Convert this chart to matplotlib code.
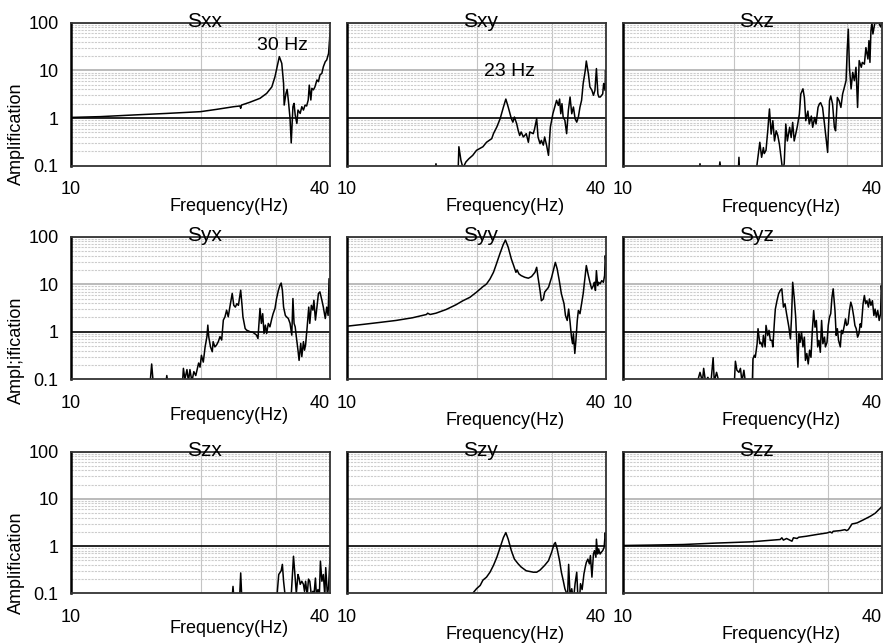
import matplotlib
matplotlib.use("Agg")
import matplotlib.pyplot as plt
from matplotlib.ticker import NullLocator, FixedLocator, NullFormatter

plt.rcParams['font.family'] = ['Liberation Sans', 'DejaVu Sans']

# ---------------- data (frequency in Hz, amplification) ----------------
# values below 0.1 are drawn below the axis floor (clipped)
sxx_f = [10, 11.7, 14.0, 16.7, 20.0, 21.8, 23.9, 24.7, 24.8, 24.9, 26.0, 27.5, 28.5, 29.3, 29.8,
         30.2, 30.5, 30.9, 31.2, 31.3, 31.6, 31.8, 32.0, 32.3, 32.5, 32.8, 33.0, 33.2, 33.5, 33.7,
         34.1, 34.4, 34.7, 35.0, 35.3, 35.6, 35.8, 36.1, 36.3, 36.6, 36.9, 37.3, 37.6, 37.9, 38.3,
         38.6, 39.0, 39.3, 39.7, 40.0]
sxx_a = [1.03, 1.07, 1.16, 1.25, 1.36, 1.52, 1.73, 1.79, 1.60, 1.87, 2.13, 2.59, 3.29, 4.5, 7.4,
         12.9, 19.4, 14.0, 5.3, 1.87, 3.29, 4.0, 2.39, 0.98, 0.30, 1.73, 2.03, 1.16, 0.77, 1.47,
         1.25, 1.73, 1.47, 1.87, 1.79, 2.39, 4.9, 2.39, 4.2, 3.9, 4.5, 6.3, 5.8, 8.0, 8.7,
         11.9, 15.2, 16.5, 22.7, 60]

sxy_f = [15.9, 16.1, 16.3, 18.1, 18.2, 18.4, 18.6, 18.9, 19.2, 19.6,
         20.0, 20.7, 21.1, 21.7, 21.9, 22.3, 22.7, 23.1, 23.4, 23.7,
         24.1, 24.3, 24.5, 24.8, 25.0, 25.2, 25.4, 25.7, 26.1, 26.4,
         26.6, 27.1, 27.3, 27.6, 27.8, 28.1, 28.3, 28.6, 28.8, 29.1,
         29.4, 29.7, 29.9, 30.1, 30.4, 30.7, 31.0, 31.2, 31.4, 31.6,
         31.8, 32.1, 32.4, 32.7, 33.0, 33.3, 33.6, 33.9, 34.2, 34.5,
         34.8, 35.1, 35.4, 35.8, 36.0, 36.4, 36.7, 37.1, 37.4, 37.7,
         38.0, 38.3, 38.5, 38.8, 39.3, 39.5, 39.8, 39.9, 40.0]
sxy_a = [0.05, 0.11, 0.05, 0.05, 0.25, 0.13, 0.09, 0.12, 0.14, 0.165,
         0.21, 0.25, 0.31, 0.37, 0.47, 0.65, 0.97, 1.7, 2.5, 1.7,
         0.97, 0.82, 1.05, 0.76, 0.55, 0.43, 0.51, 0.40, 0.47, 0.31,
         0.51, 0.47, 0.6, 0.97, 0.40, 0.29, 0.34, 0.27, 0.40, 0.27,
         0.165, 0.65, 0.89, 1.23, 1.7, 2.35, 1.84, 2.5, 1.23, 2.0,
         1.05, 0.89, 0.47, 1.45, 2.76, 1.23, 1.7, 0.97, 0.82, 1.05,
         1.7, 2.35, 5.3, 10, 15.7, 8.5, 4.5, 3.8, 3.0, 3.8,
         10.9, 3.2, 2.76, 2.76, 3.2, 5.3, 3.8, 10, 7.3]

sxz_f = [10, 14.9, 15.1, 15.3, 16.6, 16.8, 17.0, 18.5, 18.6, 18.7,
         20.3, 20.5, 20.8, 21.0, 21.2, 21.3, 21.5, 21.7, 21.9, 22.1,
         22.3, 22.5, 22.7, 22.9, 23.1, 23.3, 23.5, 23.7, 23.9, 24.1,
         24.4, 24.6, 24.8, 25.0, 25.2, 25.4, 25.7, 25.9, 26.2, 26.4,
         26.6, 26.9, 27.1, 27.4, 27.6, 27.9, 28.1, 28.4, 28.6, 28.8,
         29.1, 29.4, 29.7, 29.9, 30.2, 30.4, 30.7, 31.0, 31.2, 31.5,
         31.8, 32.1, 32.4, 32.7, 33.0, 33.2, 33.4, 33.6, 33.9, 34.2,
         34.5, 34.8, 35.1, 35.4, 35.8, 36.0, 36.4, 36.7, 37.1, 37.3,
         37.5, 37.7, 37.9, 38.1, 38.5, 38.8, 39.3, 39.7, 40.0]
sxz_a = [0.05, 0.05, 0.11, 0.05, 0.05, 0.12, 0.05, 0.05, 0.15, 0.05,
         0.05, 0.11, 0.31, 0.15, 0.24, 0.18, 0.21, 0.54, 1.55, 0.46,
         0.88, 0.33, 0.54, 0.43, 0.28, 0.15, 0.08, 0.11, 0.75, 0.33,
         0.64, 0.39, 0.81, 0.33, 0.46, 0.64, 1.2, 3.2, 4.1, 2.7,
         0.88, 1.4, 0.75, 1.1, 0.64, 1.03, 0.75, 1.67, 1.97, 2.1,
         1.67, 0.75, 0.33, 0.19, 2.3, 2.9, 1.97, 0.64, 0.54, 2.7,
         2.3, 1.67, 3.2, 4.4, 6.1, 25.9, 73, 11.6, 4.1, 9.1,
         6.1, 11.6, 1.67, 16, 11.6, 14.7, 13.5, 30, 17.3, 42,
         14.7, 68, 100, 58, 100, 96, 100, 82, 100]

syx_f = [10, 15.2, 15.4, 15.6, 16.5, 16.7, 16.9, 18.1, 18.25, 18.4,
         18.6, 18.75, 18.9, 19.1, 19.3, 19.5, 19.8, 19.95, 20.1, 20.3,
         20.5, 20.7, 20.8, 20.9, 21.1, 21.3, 21.4, 21.6, 21.8, 22.0,
         22.2, 22.4, 22.6, 22.8, 23.0, 23.2, 23.4, 23.7, 23.9, 24.1,
         24.3, 24.5, 24.6, 24.8, 25.0, 25.1, 25.4, 25.6, 26.1, 26.5,
         27.0, 27.2, 27.5, 27.7, 27.9, 28.1, 28.3, 28.5, 28.75, 29.0,
         29.3, 29.5, 29.8, 30.05, 30.35, 30.6, 30.8, 31.0, 31.2, 31.5,
         31.7, 32.0, 32.3, 32.6, 32.8, 33.0, 33.2, 33.4, 33.7, 33.9,
         34.2, 34.4, 34.7, 34.9, 35.1, 35.4, 35.7, 35.9, 36.2, 36.5,
         36.7, 37.0, 37.3, 37.6, 37.9, 38.3, 38.6, 39.0, 39.3, 39.6,
         39.8, 40.0]
syx_a = [0.05, 0.05, 0.21, 0.05, 0.05, 0.12, 0.05, 0.05, 0.17, 0.1,
         0.16, 0.09, 0.16, 0.09, 0.145, 0.12, 0.22, 0.18, 0.32, 0.23,
         0.48, 0.79, 1.38, 0.79, 0.48, 0.38, 0.62, 0.48, 0.53, 0.62,
         0.79, 0.67, 1.76, 2.06, 2.85, 2.06, 3.3, 6.4, 3.6, 3.3,
         3.9, 3.6, 4.6, 7.5, 3.3, 2.06, 1.17, 1.08, 1.0, 0.97,
         0.85, 0.72, 3.1, 1.5, 2.4, 0.92, 1.38, 0.92, 1.5, 1.27,
         1.9, 2.4, 3.1, 5.0, 7.5, 9.5, 10.6, 7.5, 3.3, 2.2,
         2.06, 1.9, 1.5, 0.85, 5.0, 1.5, 1.27, 0.79, 0.41, 0.25,
         0.57, 0.3, 0.62, 0.41, 0.53, 1.27, 3.3, 1.5, 3.6, 2.85,
         4.6, 1.76, 3.3, 6.4, 6.9, 4.6, 3.3, 1.9, 3.3, 2.2,
         13.1, 2.85]

syy_f = [10, 10.9, 11.9, 13.0, 14.2, 15.3, 15.4, 15.6, 16.1, 17.0,
         17.9, 18.6, 19.3, 20.0, 20.7, 21.1, 21.5, 21.9, 22.25, 22.65,
         23.1, 23.35, 23.7, 24.1, 24.4, 24.7, 24.85, 25.1, 25.4, 25.9,
         26.4, 26.85, 27.35, 27.6, 27.8, 28.1, 28.3, 28.6, 28.8, 29.4,
         29.9, 30.3, 30.5, 30.8, 31.15, 31.5, 31.95, 32.2, 32.5, 32.75,
         33.0, 33.25, 33.45, 33.6, 33.85, 34.05, 34.3, 34.5, 34.8, 35.1,
         35.4, 35.75, 36.0, 36.4, 36.7, 37.05, 37.4, 37.6, 37.8, 38.0,
         38.25, 38.45, 38.75, 39.1, 39.45, 39.7, 39.85, 40.0]
syy_a = [1.31, 1.43, 1.57, 1.73, 1.97, 2.31, 2.46, 2.31, 2.46, 2.94,
         3.68, 4.5, 5.3, 6.8, 8.9, 10.1, 12.9, 17.8, 26.7, 43,
         70, 85, 60, 34, 24.7, 17.8, 20, 16.5, 15.2, 14,
         13.4, 14.5, 17.8, 22.7, 14, 7.4, 4.5, 4.9, 6.8, 8.6,
         14, 22.7, 28.8, 21, 11.9, 6.3, 3.9, 2.2, 1.73, 3.0,
         1.6, 0.77, 0.56, 0.91, 0.35, 0.66, 1.73, 2.8, 2.4, 3.9,
         6.3, 14, 24.7, 15.2, 11, 8, 9.4, 11, 7.4, 19.3,
         9.4, 11, 10.2, 11.9, 11, 15.2, 40, 26.7]

syz_f = [10, 14.5, 14.7, 14.9, 15.1, 15.3, 15.4, 15.55, 15.75, 16.0,
         16.2, 16.3, 16.5, 16.7, 17.0, 18.1, 18.25, 18.4, 18.6, 18.75,
         18.9, 19.1, 19.4, 19.95, 20.05, 20.2, 20.3, 20.5, 20.6, 20.8,
         20.9, 21.1, 21.2, 21.4, 21.5, 21.7, 21.85, 22.0, 22.2, 22.3,
         22.5, 22.6, 22.8, 23.0, 23.2, 23.4, 23.6, 23.8, 24.0, 24.3,
         24.5, 24.65, 24.8, 25.0, 25.2, 25.35, 25.5, 25.65, 25.8, 26.0,
         26.2, 26.4, 26.55, 26.75, 26.95, 27.15, 27.35, 27.55, 27.75, 27.95,
         28.15, 28.35, 28.55, 28.75, 28.95, 29.15, 29.4, 29.55, 29.8, 30.0,
         30.2, 30.4, 30.6, 30.8, 31.1, 31.3, 31.5, 31.7, 32.0, 32.2,
         32.4, 32.7, 32.9, 33.1, 33.35, 33.6, 33.85, 34.1, 34.4, 34.6,
         34.85, 35.1, 35.35, 35.6, 35.8, 36.15, 36.4, 36.65, 36.9, 37.2,
         37.4, 37.7, 38.0, 38.3, 38.55, 38.8, 39.1, 39.4, 39.7, 39.85,
         40.0]
syz_a = [0.05, 0.05, 0.1, 0.09, 0.14, 0.09, 0.17, 0.09, 0.11, 0.08,
         0.285, 0.09, 0.14, 0.09, 0.05, 0.05, 0.24, 0.155, 0.14, 0.17,
         0.09, 0.155, 0.05, 0.05, 0.27, 0.32, 0.29, 0.56, 1.16, 0.56,
         0.6, 0.48, 0.84, 0.48, 1.36, 0.84, 1.07, 0.66, 0.66, 0.48,
         1.73, 3.0, 4.5, 6.3, 7.4, 8.0, 3.3, 3.9, 2.4, 1.25,
         0.71, 2.03, 11, 5.3, 2.03, 0.6, 0.18, 0.91, 0.6, 0.98,
         0.48, 0.77, 0.25, 0.35, 0.21, 0.41, 0.29, 1.07, 2.8, 1.25,
         1.73, 0.48, 0.66, 0.37, 1.73, 0.56, 0.77, 0.48, 0.6, 1.36,
         2.03, 2.4, 5.3, 8.0, 2.8, 0.84, 1.16, 0.66, 0.48, 1.07,
         0.91, 1.36, 1.87, 1.36, 1.47, 2.8, 4.2, 3.3, 2.03, 1.36,
         1.16, 0.77, 0.91, 1.47, 1.25, 3.9, 5.8, 3.9, 4.5, 3.3,
         4.9, 3.6, 4.5, 2.2, 3.0, 2.03, 2.8, 1.73, 2.4, 9.4,
         6.3]

szx_f = [10, 23.6, 23.8, 24.0, 24.6, 24.8, 25.0, 30.0, 30.2, 30.4,
         30.8, 31.0, 31.2, 31.5, 32.1, 32.5, 32.9, 33.1, 33.4, 33.7,
         33.9, 34.1, 34.4, 34.7, 34.9, 35.1, 35.4, 35.65, 35.9, 36.2,
         36.5, 36.7, 37.0, 37.2, 37.5, 37.8, 38.0, 38.3, 38.6, 38.9,
         39.1, 39.45, 39.7, 40.0]
szx_a = [0.05, 0.05, 0.14, 0.05, 0.05, 0.27, 0.05, 0.05, 0.12, 0.25,
         0.30, 0.41, 0.18, 0.08, 0.08, 0.09, 0.61, 0.30, 0.1, 0.25,
         0.21, 0.155, 0.18, 0.155, 0.11, 0.18, 0.09, 0.2, 0.18, 0.09,
         0.11, 0.09, 0.21, 0.09, 0.12, 0.1, 0.48, 0.18, 0.25, 0.09,
         0.35, 0.09, 0.14, 0.57]

szy_f = [19.4, 19.6, 20.0, 20.4, 20.7, 21.1, 21.5, 21.9, 22.3, 22.7,
         23.1, 23.4, 23.7, 24.1, 24.5, 25.0, 25.4, 26.1, 26.6, 27.1,
         27.6, 28.1, 28.8, 29.4, 29.9, 30.3, 30.5, 30.8, 31.2, 31.5,
         31.8, 32.1, 32.4, 32.5, 32.75, 33.0, 33.3, 33.6, 33.9, 34.2,
         34.4, 34.7, 34.9, 35.2, 35.55, 35.8, 36.0, 36.3, 36.6, 36.8,
         37.1, 37.4, 37.6, 37.9, 38.0, 38.25, 38.45, 38.75, 39.0, 39.3,
         39.6, 39.85, 40.0]
szy_a = [0.05, 0.1, 0.125, 0.147, 0.19, 0.22, 0.28, 0.39, 0.58, 0.94,
         1.52, 1.93, 1.4, 0.80, 0.53, 0.42, 0.36, 0.30, 0.29, 0.28,
         0.28, 0.31, 0.39, 0.49, 0.74, 1.1, 1.19, 0.87, 0.49, 0.28,
         0.19, 0.125, 0.1, 0.05, 0.41, 0.09, 0.125, 0.07, 0.16, 0.28,
         0.09, 0.07, 0.16, 0.12, 0.26, 0.36, 0.45, 0.53, 0.42, 0.63,
         0.22, 0.68, 0.8, 0.58, 1.4, 0.68, 0.87, 0.68, 0.74, 0.8,
         0.94, 1.93, 1.3]

szz_f = [10, 11.6, 13.8, 16.5, 19.8, 21.6, 23.2, 23.4, 23.6, 24.0,
         24.7, 24.9, 25.4, 25.6, 26.7, 28.2, 29.8, 30.3, 30.6, 30.8,
         32.0, 32.8, 33.1, 33.4, 33.8, 34.05, 35.0, 36.2, 37.6, 38.6,
         39.3, 40.0]
szz_a = [1.03, 1.05, 1.08, 1.16, 1.23, 1.31, 1.38, 1.5, 1.34, 1.45,
         1.27, 1.5, 1.45, 1.54, 1.62, 1.76, 1.9, 2.0, 1.9, 2.06,
         2.13, 2.23, 2.13, 2.23, 2.63, 2.94, 3.1, 3.6, 4.3, 5.0,
         5.9, 6.9]

titles = ['Sxx', 'Sxy', 'Sxz', 'Syx', 'Syy', 'Syz', 'Szx', 'Szy', 'Szz']
series = [(sxx_f, sxx_a), (sxy_f, sxy_a), (sxz_f, sxz_a),
          (syx_f, syx_a), (syy_f, syy_a), (syz_f, syz_a),
          (szx_f, szx_a), (szy_f, szy_a), (szz_f, szz_a)]
ylabels = ['Amplification', 'Ampl;ification', 'Amplification']
xticks = [10, 40]
xtick_labels = ['10', '40']
yticks = [0.1, 1, 10, 100]
ytick_labels = ['0.1', '1', '10', '100']
vgrid_default = [20, 30]
vgrid_sxz = [18.1, 25.7, 33.2]
annotations = {0: ('30 Hz', 31.0, 27.0), 1: ('23 Hz', 23.9, 7.6)}

# ---------------- layout ----------------
W, H = 893, 644
fig = plt.figure(figsize=(W / 100, H / 100), dpi=100)
col_left = [71, 347, 623]
col_w = 259
row_top = [22.7, 236.7, 451.7]
row_h = [143, 142.6, 141.6]
xlabel_drop = [[41, 41, 42], [36, 41, 41], [35, 41, 41]]
ylabel_y = [0.222, 0.205, 0.214]

FS = 13
for i in range(9):
    r, c = divmod(i, 3)
    left = col_left[c] / W
    bottom = 1 - (row_top[r] + row_h[r]) / H
    ax = fig.add_axes([left, bottom, col_w / W, row_h[r] / H])
    ax.set_xscale('log')
    ax.set_yscale('log')
    ax.set_xlim(10, 40)
    ax.set_ylim(0.1, 100)

    # grid
    for v in (vgrid_sxz if i == 2 else vgrid_default):
        ax.axvline(v, color='#c4c4c4', lw=0.8, zorder=1)
    for dec in (0.1, 1, 10):
        for m in range(2, 10):
            ax.axhline(dec * m, color='#cccccc', lw=0.8, ls=(0, (2, 1)), zorder=1)
    for v in (10, 100):
        ax.axhline(v, color='#a8a8a8', lw=1.1, zorder=1)
    ax.axhline(1, color='black', lw=1.2, zorder=2)

    f, a = series[i]
    ax.plot(f, a, color='black', lw=1.1, zorder=3)

    ax.xaxis.set_major_locator(FixedLocator(xticks))
    ax.xaxis.set_minor_locator(NullLocator())
    ax.set_xticklabels(xtick_labels, fontsize=FS)
    lbls = ax.get_xticklabels()
    lbls[1].set_horizontalalignment('right')
    ax.tick_params(axis='x', length=0, pad=11)

    ax.yaxis.set_major_locator(FixedLocator(yticks))
    ax.yaxis.set_minor_locator(NullLocator())
    if c == 0:
        ax.set_yticklabels(ytick_labels, fontsize=FS)
        ax.set_ylabel(ylabels[r], fontsize=FS)
        ax.yaxis.set_label_coords(-0.178, ylabel_y[r])
    else:
        ax.yaxis.set_major_formatter(NullFormatter())
    ax.tick_params(axis='y', length=0, pad=9)

    ax.set_xlabel('Frequency(Hz)', fontsize=FS)
    ax.xaxis.set_label_coords(0.61, -xlabel_drop[r][c] / row_h[r])
    ax.xaxis.label.set_verticalalignment('center')

    for s in ax.spines.values():
        s.set_color('#333333')
        s.set_linewidth(1.3)
        s.set_zorder(4)
    ax.spines['left'].set_color('black')
    ax.spines['left'].set_linewidth(1.8)

    ax.text(0.515, 1 - 4 / row_h[r], titles[i], transform=ax.transAxes,
            ha='center', va='baseline', fontsize=15, zorder=6)
    if i in annotations:
        t, x, y = annotations[i]
        ax.text(x, y, t, ha='center', va='baseline', fontsize=14, zorder=6)

fig.savefig('out.png', dpi=100)
